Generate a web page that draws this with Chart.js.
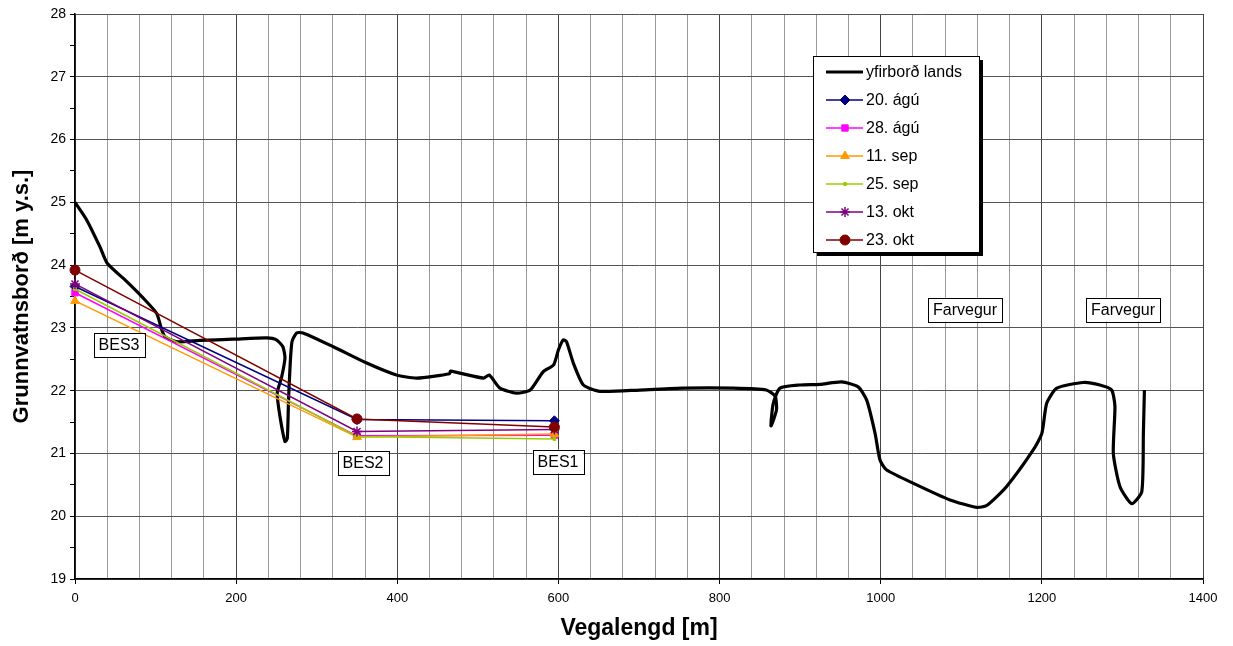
<!DOCTYPE html>
<html>
<head>
<meta charset="utf-8">
<script src="https://cdn.jsdelivr.net/npm/chart.js@4/dist/chart.umd.min.js"></script>
<style>
  body { margin: 0; background: #fff; }
  #wrap { width: 1233px; height: 646px; }
</style>
</head>
<body>
<div id="wrap"><canvas id="chart" width="1233" height="646"></canvas></div>
<script>
// well distances along the profile [m] and their names
const wellDistance = [0, 350, 595];
const wellNames = ['BES3', 'BES2', 'BES1'];

// groundwater level in each well [m y.s.]
const agu20 = [23.66, 21.54, 21.52];
const agu28 = [23.56, 21.28, 21.29];
const sep11 = [23.43, 21.26, 21.31];
const sep25 = [23.62, 21.27, 21.23];
const okt13 = [23.70, 21.35, 21.38];
const okt23 = [23.92, 21.55, 21.42];

// land surface profile
const landX = [0, 14.5, 31, 40, 64, 85, 101.4, 107.6, 111.7, 126, 155, 196.5, 238, 250, 258, 260.6, 256.5, 251,
  254.4, 260.6, 263.5, 265, 266.9, 269.3, 275, 283, 320.6, 362, 399, 424, 465, 466, 507, 514, 527.5, 548, 565,
  581, 594, 600, 606, 610, 618.5, 631, 651.6, 701, 755, 817, 858, 869, 870.6, 863.8, 866.7, 875, 900, 924.6,
  951.5, 972, 982.6, 993, 999, 1007, 1044.6, 1086, 1119, 1131.5, 1156, 1189.5, 1200, 1206, 1218.5, 1251.5,
  1272, 1286.6, 1290.7, 1288.7, 1297, 1311.5, 1324, 1326, 1327.3];
const landY = [25.0, 24.72, 24.29, 24.03, 23.74, 23.47, 23.23, 22.97, 22.86, 22.78, 22.80, 22.82, 22.84, 22.81,
  22.70, 22.52, 22.22, 21.96, 21.59, 21.19, 21.24, 21.85, 22.38, 22.78, 22.92, 22.92, 22.70, 22.44, 22.25, 22.20,
  22.27, 22.31, 22.20, 22.25, 22.04, 21.96, 22.01, 22.30, 22.41, 22.65, 22.81, 22.78, 22.44, 22.09, 21.99, 22.01,
  22.04, 22.04, 22.01, 21.91, 21.69, 21.44, 21.80, 22.04, 22.09, 22.10, 22.14, 22.06, 21.85, 21.32, 20.90, 20.74,
  20.50, 20.26, 20.14, 20.17, 20.47, 21.06, 21.32, 21.80, 22.04, 22.13, 22.09, 22.01, 21.75, 21.00, 20.47, 20.20,
  20.39, 21.32, 22.01];

const seriesLabels = ['20. ágú', '28. ágú', '11. sep', '25. sep', '13. okt', '23. okt'];
const seriesValues = [agu20, agu28, sep11, sep25, okt13, okt23];
const seriesColors = ['#000080', '#FF00FF', '#FF9900', '#99CC00', '#800080', '#800000'];
const seriesPoints = ['rectRot', 'rect', 'triangle', 'rect', 'star', 'circle'];
const seriesRadius = [5, 4.5, 5, 2, 5, 5];

// extra text boxes in the plot
const noteTexts = ['BES3', 'BES2', 'BES1', 'Farvegur', 'Farvegur'];
const notePos = [[54.6, 22.73], [357.5, 20.85], [599.5, 20.87], [1104.6, 23.29], [1300.7, 23.29]];

const FONT = "'Liberation Sans', Arial, sans-serif";

const toXY = (xs, ys) => xs.map((x, i) => ({ x, y: ys[i] }));

const datasets = [{
  label: 'yfirborð lands',
  data: toXY(landX, landY),
  borderColor: '#000',
  backgroundColor: '#000',
  borderWidth: 3.2,
  pointRadius: 0,
  showLine: true,
  tension: 0.2,
  order: 10
}];
seriesLabels.forEach((label, i) => {
  datasets.push({
    label,
    data: toXY(wellDistance, seriesValues[i]),
    borderColor: seriesColors[i],
    backgroundColor: seriesColors[i],
    borderWidth: 1.5,
    showLine: true,
    clip: false,
    pointStyle: seriesPoints[i],
    pointRadius: seriesRadius[i],
    pointBorderWidth: seriesPoints[i] === 'star' ? 1.5 : 1,
    order: 7 - i
  });
});

const boxPlugin = {
  id: 'boxes',
  afterDatasetsDraw(chart) {
    const ctx = chart.ctx;
    const xs = chart.scales.x, ys = chart.scales.y;
    ctx.save();
    ctx.font = '16px ' + FONT;
    ctx.textAlign = 'center';
    ctx.textBaseline = 'middle';
    noteTexts.forEach((t, i) => {
      const cx = xs.getPixelForValue(notePos[i][0]);
      const cy = ys.getPixelForValue(notePos[i][1]);
      const w = ctx.measureText(t).width + 10;
      const h = 24;
      ctx.fillStyle = '#fff';
      ctx.fillRect(cx - w / 2, cy - h / 2, w, h);
      ctx.strokeStyle = '#000';
      ctx.lineWidth = 1;
      ctx.strokeRect(Math.round(cx - w / 2) + 0.5, Math.round(cy - h / 2) + 0.5, Math.round(w), h);
      ctx.fillStyle = '#000';
      ctx.fillText(t, cx, cy + 1);
    });

    // legend
    const area = chart.chartArea;
    const left = area.left + 738, top = area.top + 42, w = 166, h = 196;
    ctx.fillStyle = '#000';
    ctx.fillRect(left + 4, top + 4, w, h);
    ctx.fillStyle = '#fff';
    ctx.fillRect(left, top, w, h);
    ctx.strokeStyle = '#000';
    ctx.lineWidth = 1;
    ctx.strokeRect(left + 0.5, top + 0.5, w, h);
    ctx.font = '16px ' + FONT;
    ctx.textAlign = 'left';
    chart.data.datasets.forEach((ds, i) => {
      const y = top + 16 + i * 28;
      ctx.strokeStyle = ds.borderColor;
      ctx.lineWidth = ds.borderWidth;
      ctx.beginPath();
      ctx.moveTo(left + 13, y);
      ctx.lineTo(left + 50, y);
      ctx.stroke();
      if (ds.pointRadius > 0 && Chart.helpers && Chart.helpers.drawPoint) {
        ctx.fillStyle = ds.backgroundColor;
        ctx.lineWidth = ds.pointBorderWidth;
        Chart.helpers.drawPoint(ctx, { pointStyle: ds.pointStyle, radius: ds.pointRadius, rotation: 0, borderWidth: ds.pointBorderWidth }, left + 32, y);
      }
      ctx.fillStyle = '#000';
      ctx.fillText(ds.label, left + 53, y + 1);
    });
    ctx.restore();
  }
};

new Chart(document.getElementById('chart'), {
  type: 'scatter',
  data: { datasets },
  options: {
    responsive: false,
    animation: false,
    layout: { padding: { left: 0, right: 30, top: 14, bottom: 0 } },
    plugins: { legend: { display: false }, tooltip: { enabled: false } },
    scales: {
      x: {
        type: 'linear',
        min: 0, max: 1400,
        afterFit: s => { s.height = 67; },
        ticks: {
          stepSize: 40, autoSkip: false, maxRotation: 0, padding: 7,
          color: '#000', font: { family: FONT, size: 13 },
          callback: v => (v % 200 === 0 ? v : '')
        },
        grid: {
          color: c => (c.tick && c.tick.value % 200 === 0 ? '#444' : '#999'),
          tickColor: c => (c.tick && c.tick.value % 200 === 0 ? '#000' : 'rgba(0,0,0,0)'),
          tickLength: 5
        },
        border: { color: '#000', width: 1.5 },
        title: {
          display: true, text: 'Vegalengd [m]', color: '#000',
          font: { family: FONT, size: 23, weight: 'bold' }, padding: { top: 10 }
        }
      },
      y: {
        min: 19, max: 28,
        afterFit: s => { s.width = 75; },
        ticks: {
          stepSize: 0.5, autoSkip: false, padding: 4,
          color: '#000', font: { family: FONT, size: 14 },
          callback: v => (Number.isInteger(v) ? v : '')
        },
        grid: {
          color: c => (c.tick && Number.isInteger(c.tick.value) ? '#555' : 'rgba(0,0,0,0)'),
          tickColor: '#000',
          tickLength: 5
        },
        border: { color: '#000', width: 1.5 },
        title: {
          display: true, text: 'Grunnvatnsborð [m y.s.]', color: '#000',
          font: { family: FONT, size: 22, weight: 'bold' }, padding: { top: 9, bottom: 0 }
        }
      }
    }
  },
  plugins: [boxPlugin]
});
</script>
</body>
</html>
